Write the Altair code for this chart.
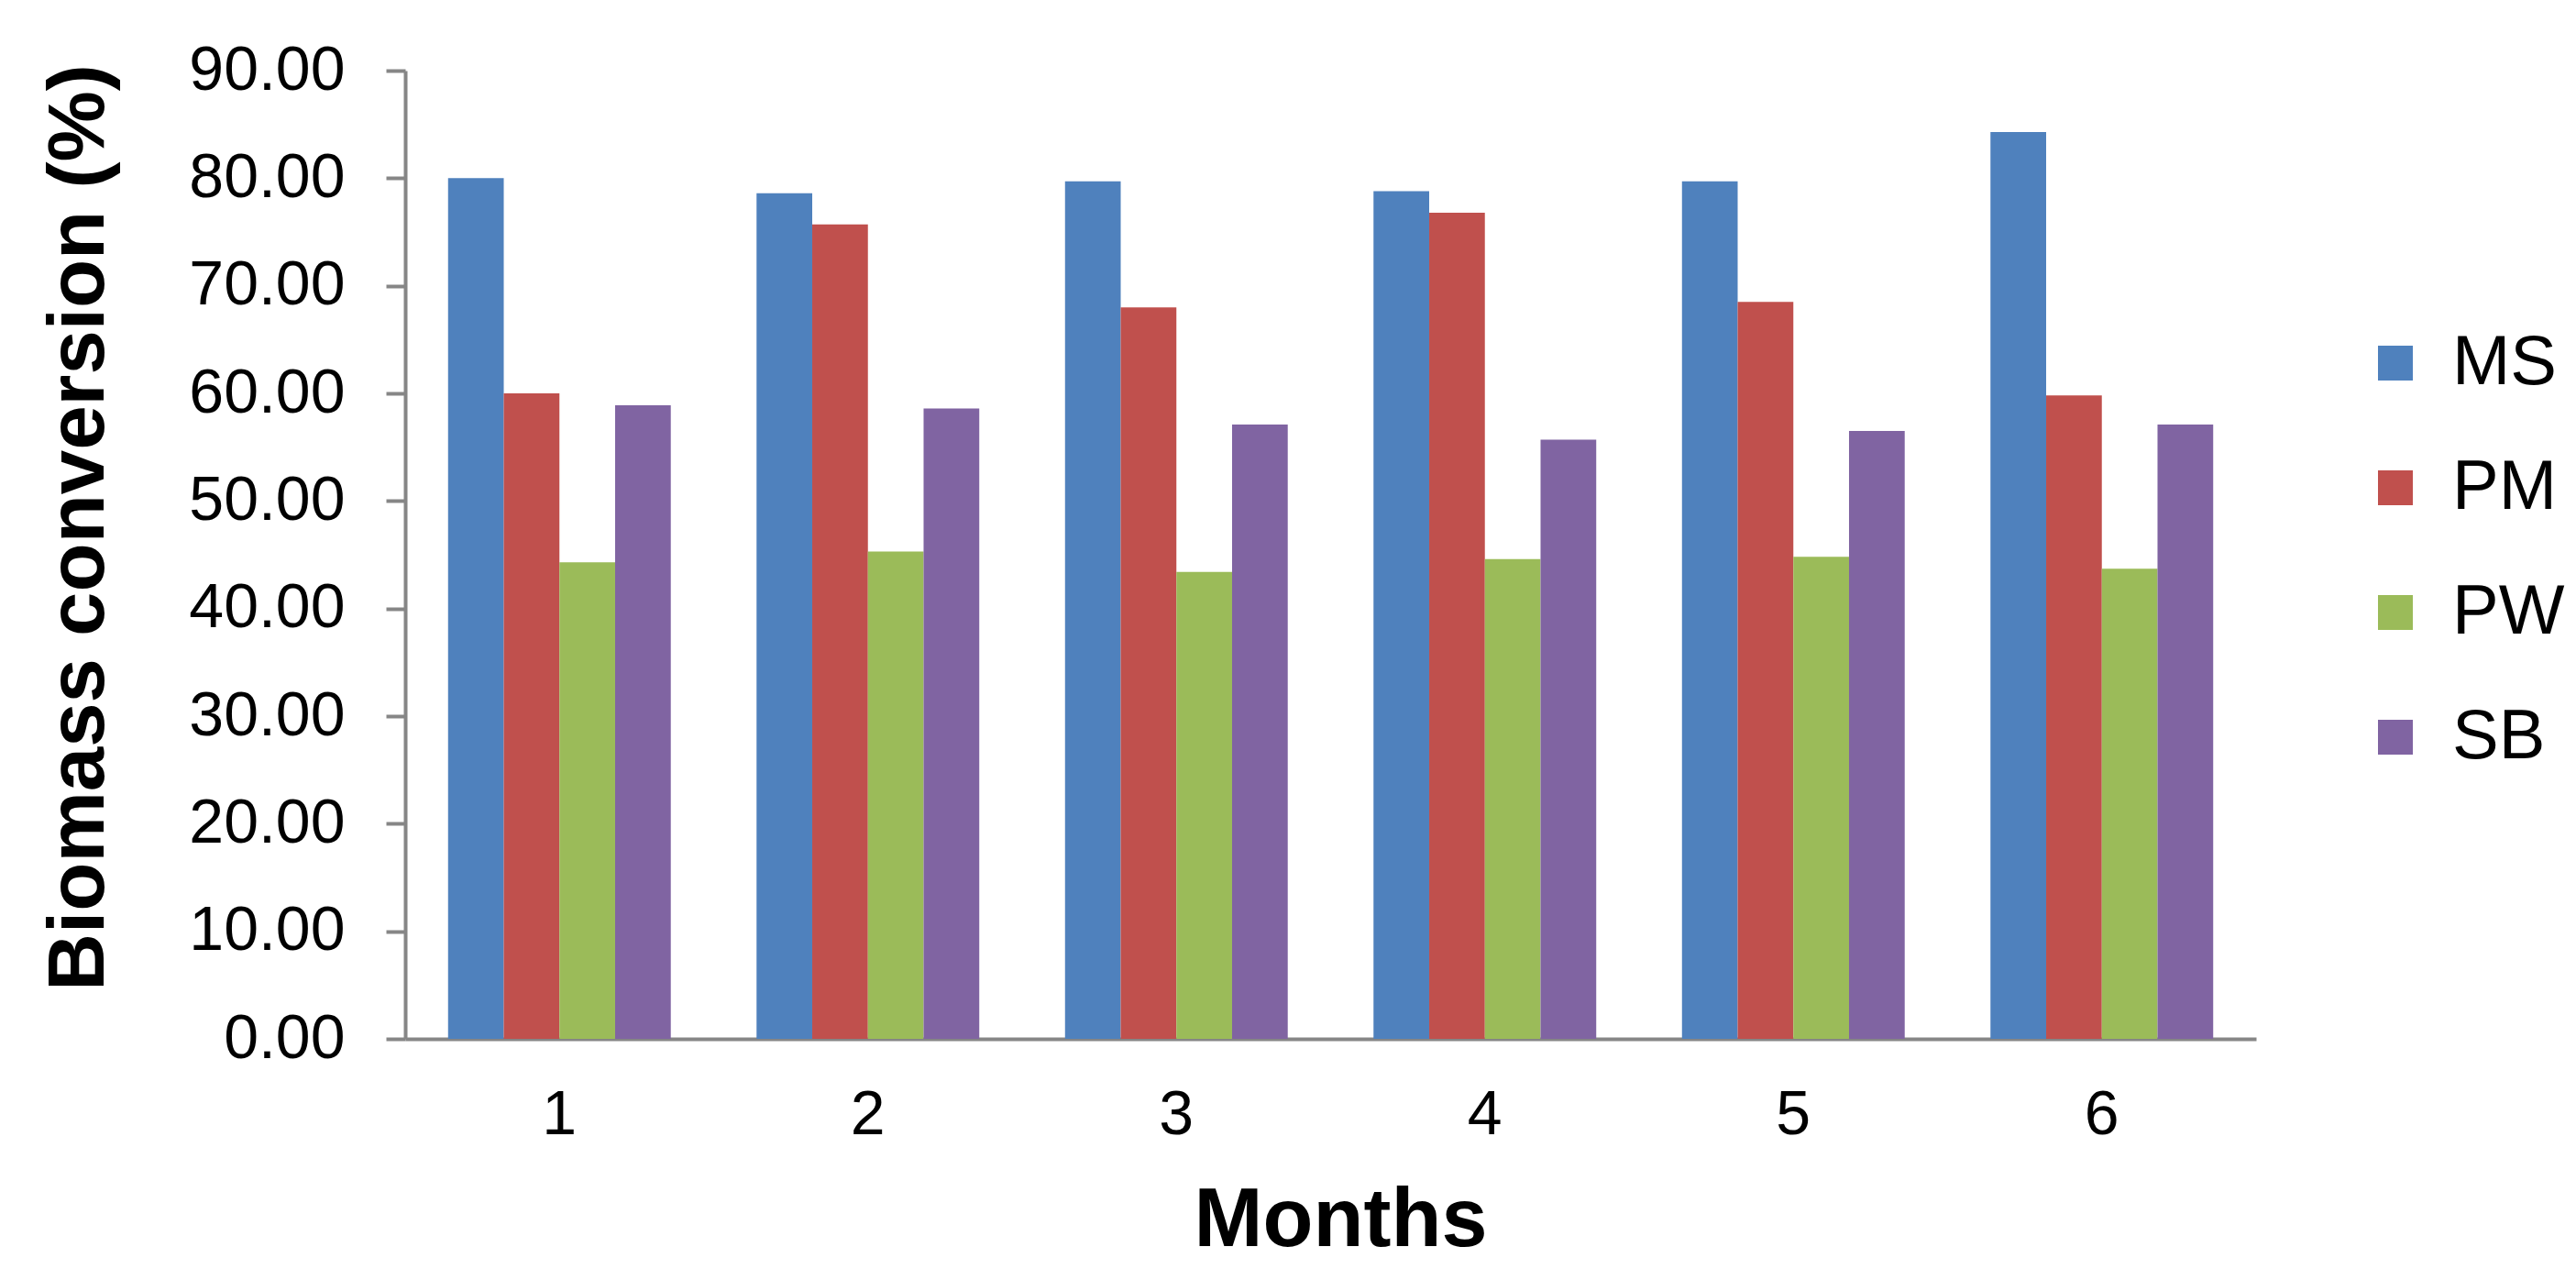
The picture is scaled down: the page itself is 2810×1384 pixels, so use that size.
import altair as alt
import pandas as pd

months = ["1", "2", "3", "4", "5", "6"]
series = ["MS", "PM", "PW", "SB"]
ms = [80.0, 78.6, 79.7, 78.8, 79.7, 84.3]
pm = [60.0, 75.7, 68.0, 76.8, 68.5, 59.8]
pw = [44.3, 45.3, 43.4, 44.6, 44.8, 43.7]
sb = [58.9, 58.6, 57.1, 55.7, 56.5, 57.1]
colors = ["#4F81BD", "#C0504D", "#9BBB59", "#8064A2"]
y_ticks = [0, 10, 20, 30, 40, 50, 60, 70, 80, 90]

rows = []
for s, vals in zip(series, [ms, pm, pw, sb]):
    for m, v in zip(months, vals):
        rows.append({"Month": m, "Series": s, "Value": v})
df = pd.DataFrame(rows)

FONT = "Liberation Sans"

chart = alt.Chart(df).mark_bar().encode(
    x=alt.X(
        "Month:N",
        sort=months,
        scale=alt.Scale(paddingInner=0.278, paddingOuter=0.139),
        axis=alt.Axis(
            title="Months",
            labelAngle=0,
            ticks=False,
            labelPadding=49,
            labelFontSize=68,
            labelFont=FONT,
            labelColor="black",
            domainColor="#868686",
            domainWidth=4,
            titleFontSize=90,
            titleFont=FONT,
            titleFontWeight="bold",
            titleColor="black",
            titleBaseline="alphabetic",
            titleY=225,
            titleX=1020,
            grid=False,
        ),
    ),
    xOffset=alt.XOffset("Series:N", sort=series, scale=alt.Scale(paddingInner=0, paddingOuter=0)),
    y=alt.Y(
        "Value:Q",
        scale=alt.Scale(domain=[0, 90], nice=False),
        axis=alt.Axis(
            title="Biomass conversion (%)",
            values=y_ticks,
            format=".2f",
            tickSize=21,
            tickWidth=4,
            tickColor="#868686",
            domainColor="#868686",
            domainWidth=4,
            labelPadding=45,
            labelFontSize=68,
            labelFont=FONT,
            labelColor="black",
            titleFontSize=87,
            titleFont=FONT,
            titleFontWeight="bold",
            titleColor="black",
            titleAngle=270,
            titleBaseline="alphabetic",
            titleAlign="center",
            titleX=-330,
            titleY=498,
            grid=False,
        ),
    ),
    color=alt.Color(
        "Series:N",
        sort=series,
        scale=alt.Scale(domain=series, range=colors),
        legend=alt.Legend(
            title=None,
            orient="none",
            legendX=2133,
            legendY=281,
            symbolType="square",
            symbolSize=1444,
            symbolStrokeWidth=0,
            labelFontSize=76,
            labelFont=FONT,
            labelColor="black",
            labelOffset=24,
            rowPadding=60,
            padding=0,
        ),
    ),
).properties(
    width=2019,
    height=1056,
    autosize=alt.AutoSizeParams(type="none"),
    padding={"left": 434, "top": 69, "right": 341, "bottom": 243},
).configure(background="white").configure_view(stroke=None, strokeWidth=0)

chart.save("out.html", embed_options={"renderer": "svg", "actions": False})
